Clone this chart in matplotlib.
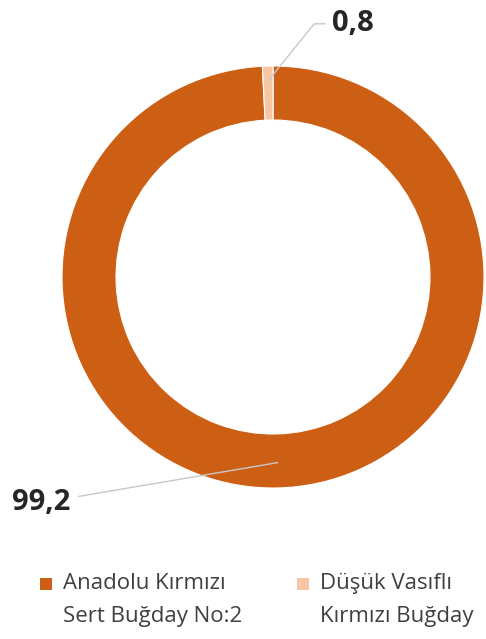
import numpy as np
from matplotlib import pyplot as plt
from matplotlib.patches import Rectangle

labels = ['Anadolu Kırmızı\nSert Buğday No:2', 'Düşük Vasıflı\nKırmızı Buğday']
values = [99.2, 0.8]
value_text = ['99,2', '0,8']
colors = ['#CC5F14', '#F8C6A3']

plt.rcParams['font.family'] = ['Open Sans', 'DejaVu Sans']

fig = plt.figure(figsize=(4.86, 6.39), dpi=100)
# donut centre ~ (273, 277) px, outer radius ~ 211 px
ax = fig.add_axes([62 / 486, 151 / 639, 422 / 486, 422 / 639])

wedges, _ = ax.pie(values, colors=colors, startangle=90, counterclock=False,
                   radius=1, wedgeprops=dict(width=0.256, edgecolor='white', linewidth=0.8))
ax.set_xlim(-1, 1)
ax.set_ylim(-1, 1)
ax.axis('off')


def mid_point(w, r):
    ang = np.deg2rad((w.theta1 + w.theta2) / 2)
    return r * np.cos(ang), r * np.sin(ang)


# big slice label, lower left
ax.annotate(value_text[0], xy=mid_point(wedges[0], 0.88), xytext=(-0.96, -1.07),
            ha='right', va='center', fontsize=21, fontweight='bold', color='#262626',
            annotation_clip=False,
            arrowprops=dict(arrowstyle='-', color='#C8C8C8', lw=1, shrinkA=4, shrinkB=0))

# small slice label, top
ax.annotate(value_text[1], xy=mid_point(wedges[1], 0.93), xytext=(0.28, 1.2),
            ha='left', va='center', fontsize=21, fontweight='bold', color='#262626',
            annotation_clip=False,
            arrowprops=dict(arrowstyle='-', color='#C8C8C8', lw=1, shrinkA=3, shrinkB=0,
                            connectionstyle='angle,angleA=180,angleB=51,rad=0'))

# legend drawn by hand so the square sits on the first text line
leg_x = [40, 297]
for i in range(len(labels)):
    fig.patches.append(Rectangle((leg_x[i] / 486, 49 / 639), 12 / 486, 12 / 639,
                                 transform=fig.transFigure, facecolor=colors[i],
                                 edgecolor='none'))
    fig.text((leg_x[i] + 23) / 486, 1 - 573 / 639, labels[i], ha='left', va='top',
             fontsize=16, color='#404040', linespacing=1.78)

fig.savefig('out.png', dpi=100)
